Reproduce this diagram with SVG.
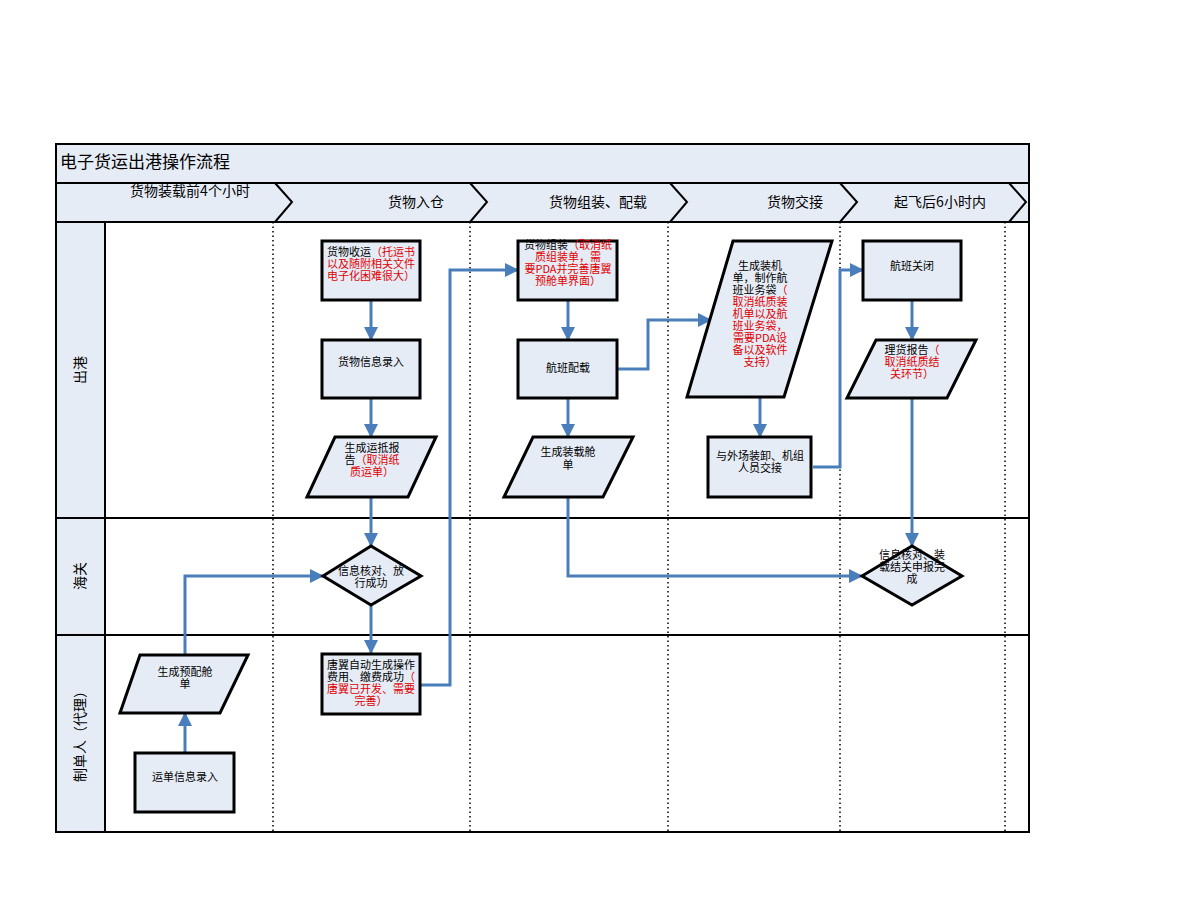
<svg xmlns="http://www.w3.org/2000/svg" width="1188" height="918" viewBox="0 0 1188 918">
<defs>
<style>
.frame{fill:#E6ECF6;stroke:#000;stroke-width:2}
.lane{fill:none;stroke:#000;stroke-width:2}
.dot{stroke:#000;stroke-width:1.5;stroke-dasharray:1.5 3}
.node{fill:#E6ECF6;stroke:#000;stroke-width:3}
.t{font-family:"Noto Sans CJK SC","Liberation Sans",sans-serif;font-size:11px;fill:#000;text-anchor:middle}
.r{fill:#E00000}
.h{font-family:"Noto Sans CJK SC","Liberation Sans",sans-serif;font-size:14px;fill:#000;text-anchor:middle}
.c{fill:none;stroke:#4A7EBB;stroke-width:3}
</style>
<marker id="ah" markerUnits="userSpaceOnUse" markerWidth="14" markerHeight="14" viewBox="0 0 14 14" refX="13" refY="7" orient="auto">
<path d="M0,0 L14,7 L0,14 Z" fill="#4A7EBB"/>
</marker>
</defs>
<rect width="1188" height="918" fill="#fff"/>
<g id="pool">
<rect class="frame" x="56" y="144" width="973" height="39"/>
<text x="60" y="168" font-family="Noto Sans CJK SC,Liberation Sans,sans-serif" font-size="17" fill="#000">电子货运出港操作流程</text>
<rect class="frame" x="56" y="183" width="973" height="39"/>
<polyline class="lane" points="275,183 292,202 275,222"/>
<polyline class="lane" points="470,183 487,202 470,222"/>
<polyline class="lane" points="670,183 687,202 670,222"/>
<polyline class="lane" points="840,183 857,202 840,222"/>
<polyline class="lane" points="1009,183 1026,202 1009,222"/>
<text class="h" x="190" y="196">货物装载前4个小时</text>
<text class="h" x="416" y="207">货物入仓</text>
<text class="h" x="598" y="207">货物组装、配载</text>
<text class="h" x="795" y="207">货物交接</text>
<text class="h" x="940" y="207">起飞后6小时内</text>
<rect class="frame" x="56" y="222" width="49" height="610"/>
<rect class="lane" x="56" y="222" width="973" height="610"/>
<line class="lane" x1="56" y1="518" x2="1029" y2="518"/>
<line class="lane" x1="56" y1="635" x2="1029" y2="635"/>
<line class="dot" x1="273" y1="222" x2="273" y2="832"/>
<line class="dot" x1="470" y1="222" x2="470" y2="832"/>
<line class="dot" x1="668" y1="222" x2="668" y2="832"/>
<line class="dot" x1="840" y1="222" x2="840" y2="832"/>
<line class="dot" x1="1005" y1="222" x2="1005" y2="832"/>
<text class="h" transform="translate(85,370) rotate(-90)">出港</text>
<text class="h" transform="translate(85,576) rotate(-90)">海关</text>
<text class="h" transform="translate(85,733) rotate(-90)">制单人（代理）</text>
</g>
<g id="connectors">
<line class="c" x1="371" y1="300" x2="371" y2="340" marker-end="url(#ah)"/>
<line class="c" x1="371" y1="398" x2="371" y2="437" marker-end="url(#ah)"/>
<line class="c" x1="371" y1="497" x2="371" y2="546" marker-end="url(#ah)"/>
<line class="c" x1="371" y1="605" x2="371" y2="653" marker-end="url(#ah)"/>
<polyline class="c" points="420,685 450,685 450,270 518,270" marker-end="url(#ah)"/>
<line class="c" x1="568" y1="300" x2="568" y2="340" marker-end="url(#ah)"/>
<line class="c" x1="568" y1="398" x2="568" y2="437" marker-end="url(#ah)"/>
<polyline class="c" points="617,369 648,369 648,320 711,320" marker-end="url(#ah)"/>
<polyline class="c" points="568,497 568,576 862,576" marker-end="url(#ah)"/>
<line class="c" x1="760" y1="397" x2="760" y2="437" marker-end="url(#ah)"/>
<polyline class="c" points="813,467 840,467 840,270 863,270" marker-end="url(#ah)"/>
<line class="c" x1="912" y1="300" x2="912" y2="340" marker-end="url(#ah)"/>
<line class="c" x1="912" y1="398" x2="912" y2="546" marker-end="url(#ah)"/>
<line class="c" x1="185" y1="753" x2="185" y2="713" marker-end="url(#ah)"/>
<polyline class="c" points="185,655 185,576 323,576" marker-end="url(#ah)"/>
</g>
<g id="n1">
<rect class="node" x="322" y="241" width="98" height="59"/>
<text class="t" x="371" y="256">货物收运<tspan class="r">（托运书</tspan></text>
<text class="t r" x="371" y="268">以及随附相关文件</text>
<text class="t r" x="371" y="280">电子化困难很大）</text>
</g>
<g id="n2">
<rect class="node" x="322" y="340" width="98" height="58"/>
<text class="t" x="371" y="366">货物信息录入</text>
</g>
<g id="n3">
<polygon class="node" points="335,437 436,437 408,497 307,497"/>
<text class="t" x="372" y="452">生成运抵报</text>
<text class="t" x="372" y="464">告<tspan class="r">（取消纸</tspan></text>
<text class="t r" x="372" y="476">质运单）</text>
</g>
<g id="n4">
<polygon class="node" points="323,576 371,546 421,576 371,605"/>
<text class="t" x="371" y="575">信息核对、放</text>
<text class="t" x="371" y="587">行成功</text>
</g>
<g id="n5">
<rect class="node" x="322" y="654" width="98" height="60"/>
<text class="t" x="371" y="669">唐翼自动生成操作</text>
<text class="t" x="371" y="681">费用、缴费成功<tspan class="r">（</tspan></text>
<text class="t r" x="371" y="693">唐翼已开发、需要</text>
<text class="t r" x="371" y="705">完善）</text>
</g>
<g id="n6">
<rect class="node" x="518" y="241" width="99" height="59"/>
<text class="t" x="568" y="249">货物组装<tspan class="r">（取消纸</tspan></text>
<text class="t r" x="568" y="261">质组装单，需</text>
<text class="t r" x="568" y="273">要PDA并完善唐翼</text>
<text class="t r" x="568" y="285">预舱单界面）</text>
</g>
<g id="n7">
<rect class="node" x="518" y="340" width="99" height="58"/>
<text class="t" x="568" y="372">航班配载</text>
</g>
<g id="n8">
<polygon class="node" points="533,437 633,437 603,497 504,497"/>
<text class="t" x="568" y="456">生成装载舱</text>
<text class="t" x="568" y="469">单</text>
</g>
<g id="n9">
<polygon class="node" points="733,241 832,241 784,397 687,397"/>
<text class="t" x="760" y="270">生成装机</text>
<text class="t" x="760" y="282">单，制作航</text>
<text class="t" x="760" y="294">班业务袋<tspan class="r">（</tspan></text>
<text class="t r" x="760" y="306">取消纸质装</text>
<text class="t r" x="760" y="318">机单以及航</text>
<text class="t r" x="760" y="330">班业务袋，</text>
<text class="t r" x="760" y="342">需要PDA设</text>
<text class="t r" x="760" y="354">备以及软件</text>
<text class="t r" x="760" y="366">支持）</text>
</g>
<g id="n10">
<rect class="node" x="708" y="437" width="103" height="60"/>
<text class="t" x="760" y="460">与外场装卸、机组</text>
<text class="t" x="760" y="472">人员交接</text>
</g>
<g id="n11">
<rect class="node" x="863" y="241" width="98" height="59"/>
<text class="t" x="912" y="270">航班关闭</text>
</g>
<g id="n12">
<polygon class="node" points="876,340 976,340 947,398 847,398"/>
<text class="t" x="912" y="354">理货报告<tspan class="r">（</tspan></text>
<text class="t r" x="912" y="366">取消纸质结</text>
<text class="t r" x="912" y="378">关环节）</text>
</g>
<g id="n13">
<polygon class="node" points="862,576 912,546 962,576 912,605"/>
<text class="t" x="912" y="559">信息核对、装</text>
<text class="t" x="912" y="571">载结关申报完</text>
<text class="t" x="912" y="583">成</text>
</g>
<g id="n14">
<polygon class="node" points="140,655 248,655 220,713 120,713"/>
<text class="t" x="185" y="676">生成预配舱</text>
<text class="t" x="185" y="688">单</text>
</g>
<g id="n15">
<rect class="node" x="135" y="753" width="99" height="59"/>
<text class="t" x="185" y="781">运单信息录入</text>
</g>
</svg>
